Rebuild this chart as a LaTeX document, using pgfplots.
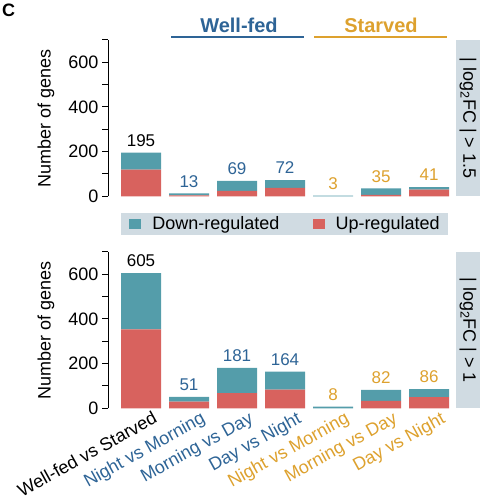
\documentclass[border=0pt]{standalone}
\usepackage{pgfplots}
\pgfplotsset{compat=1.18}
\usepackage{fontspec}
\setmainfont{Liberation Sans}

\definecolor{downcol}{HTML}{549DAA}
\definecolor{upcol}{HTML}{D8625E}
\definecolor{wfcol}{HTML}{2E6496}
\definecolor{stcol}{HTML}{DDA12E}
\definecolor{stripcol}{HTML}{D0DBE2}

\newcommand{\basefont}{\fontsize{18}{21}\selectfont}
\newcommand{\numfont}{\fontsize{17}{20}\selectfont}

\pgfplotsset{
  /pgf/number format/assume math mode=true,
  panel/.style={
    scale only axis, width=345pt, height=156.5pt,
    xmin=-0.6875, xmax=6.5, ymin=0, ymax=700,
  },
  barpanel/.style={panel,
    ybar stacked, bar width=40pt,
    axis y line*=left, axis x line*=bottom,
    x axis line style={draw=none},
    xtick={0,...,6}, xtick style={draw=none}, xticklabels={},
    ytick={0,200,400,600}, minor ytick={100,300,500,700},
    tick align=outside, major tick length=6pt, minor tick length=6pt,
    ytick style={black, line width=0.9pt},
    minor tick style={black, line width=0.9pt},
    y axis line style={black, line width=0.9pt},
    ylabel={Number of genes},
    every axis y label/.style={at={(axis description cs:-0.1797,0.5)}, rotate=90, anchor=center},
    tick label style={font=\basefont, text=black},
    label style={font=\basefont},
  },
  labelpanel/.style={panel, hide axis,
    nodes near coords, point meta=y,
    nodes near coords align={above},
    every node near coord/.append style={font=\numfont, inner sep=0pt, yshift=6pt},
  },
}

\begin{document}
\begin{tikzpicture}[x=1pt,y=1pt]
\useasboundingbox (0,0) rectangle (480,503);

% panel letter and condition headers
\node[anchor=base west, inner sep=0pt, font=\bfseries\fontsize{18}{21}\selectfont] at (2,486) {C};
\node[anchor=base, inner sep=0pt, text=wfcol, font=\bfseries\fontsize{20}{24}\selectfont] at (239,470) {Well-fed};
\draw[wfcol, line width=2pt] (171,465.7) -- (304,465.7);
\node[anchor=base, inner sep=0pt, text=stcol, font=\bfseries\fontsize{20}{24}\selectfont] at (381,470) {Starved};
\draw[stcol, line width=2pt] (314,465.7) -- (447,465.7);

% facet strips
\fill[stripcol] (456,306.7) rectangle (480,463.2);
\node[rotate=-90, font=\basefont] at (468,384.95) {| log\textsubscript{2}FC | > 1.5};
\fill[stripcol] (456,94.7) rectangle (480,251.2);
\node[rotate=-90, font=\basefont] at (468,172.95) {| log\textsubscript{2}FC | > 1};

% |log2FC| > 1.5
\begin{axis}[barpanel, at={(108pt,306.7pt)}, anchor=south west,
  legend style={at={(0.5116,-0.177)}, anchor=center, fill=stripcol, draw=none,
    legend columns=2, font=\basefont, inner xsep=8pt, inner ysep=4pt,
    nodes={inner sep=0pt},
    /tikz/every odd column/.append style={column sep=11pt},
    /tikz/every even column/.append style={column sep=33pt}},
  reverse legend,
  legend image code/.code={\draw[#1, draw=none] (0pt,-5pt) rectangle (12pt,5pt);},
]
\addplot[fill=upcol, draw=none] coordinates {(0,119) (1,4) (2,24) (3,38) (4,0) (5,6) (6,30)};
\addlegendentry{Up-regulated}
\addplot[fill=downcol, draw=none] coordinates {(0,76) (1,9) (2,45) (3,34) (4,3) (5,29) (6,11)};
\addlegendentry{Down-regulated}
\end{axis}
\begin{axis}[labelpanel, at={(108pt,306.7pt)}, anchor=south west]
\addplot[draw=none, nodes near coords style={text=black}] coordinates {(0,195)};
\addplot[draw=none, nodes near coords style={text=wfcol}] coordinates {(1,13) (2,69) (3,72)};
\addplot[draw=none, nodes near coords style={text=stcol}] coordinates {(4,3) (5,35) (6,41)};
\end{axis}

% |log2FC| > 1
\begin{axis}[barpanel, at={(108pt,94.7pt)}, anchor=south west,
  xticklabels={Well-fed vs Starved,
    \textcolor{wfcol}{Night vs Morning}, \textcolor{wfcol}{Morning vs Day}, \textcolor{wfcol}{Day vs Night},
    \textcolor{stcol}{Night vs Morning}, \textcolor{stcol}{Morning vs Day}, \textcolor{stcol}{Day vs Night}},
  xticklabel style={xshift=11pt, yshift=4pt, rotate=29, anchor=north east, inner sep=0pt},
]
\addplot[fill=upcol, draw=none] coordinates {(0,353) (1,30) (2,68) (3,83) (4,0) (5,33) (6,50)};
\addplot[fill=downcol, draw=none] coordinates {(0,252) (1,21) (2,113) (3,81) (4,8) (5,49) (6,36)};
\end{axis}
\begin{axis}[labelpanel, at={(108pt,94.7pt)}, anchor=south west]
\addplot[draw=none, nodes near coords style={text=black}] coordinates {(0,605)};
\addplot[draw=none, nodes near coords style={text=wfcol}] coordinates {(1,51) (2,181) (3,164)};
\addplot[draw=none, nodes near coords style={text=stcol}] coordinates {(4,8) (5,82) (6,86)};
\end{axis}
\end{tikzpicture}
\end{document}
